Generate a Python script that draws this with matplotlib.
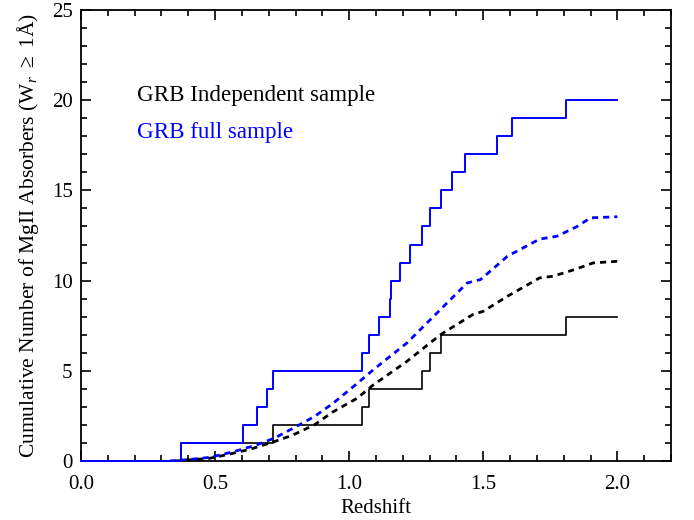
import matplotlib
matplotlib.use("Agg")
import matplotlib.pyplot as plt
from matplotlib.ticker import MultipleLocator

plt.rcParams['font.family'] = ['Liberation Serif', 'DejaVu Serif']
plt.rcParams['mathtext.fontset'] = 'custom'
plt.rcParams['mathtext.rm'] = 'Liberation Serif'
plt.rcParams['mathtext.it'] = 'Liberation Serif:italic'

# Observed cumulative counts (step functions)
full_z = [0.0, 0.373, 0.603, 0.657, 0.693, 0.715, 1.047, 1.075, 1.110, 1.153, 1.157,
          1.190, 1.225, 1.271, 1.302, 1.342, 1.383, 1.430, 1.551, 1.607, 1.809, 2.0]
full_n = [0, 1, 2, 3, 4, 5, 6, 7, 8, 9, 10, 11, 12, 13, 14, 15, 16, 17, 18, 19, 20, 20]

indep_z = [0.0, 0.373, 0.715, 1.047, 1.075, 1.271, 1.302, 1.342, 1.809, 2.0]
indep_n = [0, 1, 2, 3, 4, 5, 6, 7, 8, 8]

# Expected cumulative curves (dashed)
full_exp_z = [0.33, 0.40, 0.48, 0.57, 0.655, 0.72, 0.79, 0.87, 0.94, 1.03, 1.09,
              1.215, 1.34, 1.44, 1.49, 1.59, 1.71, 1.775, 1.85, 1.90, 2.0]
full_exp_n = [0.0, 0.08, 0.2, 0.52, 0.89, 1.26, 1.81, 2.46, 3.2, 4.3, 5.06,
              6.54, 8.39, 9.87, 10.06, 11.35, 12.3, 12.46, 13.0, 13.48, 13.54]

indep_exp_z = [0.35, 0.48, 0.556, 0.63, 0.72, 0.79, 0.87, 0.94, 1.03, 1.09, 1.215,
               1.34, 1.46, 1.50, 1.59, 1.71, 1.76, 1.84, 1.91, 2.0]
indep_exp_n = [0.0, 0.15, 0.39, 0.65, 1.07, 1.44, 2.0, 2.73, 3.48, 4.22, 5.52,
               7.0, 8.11, 8.3, 9.13, 10.15, 10.24, 10.61, 10.98, 11.07]

fig = plt.figure(figsize=(6.94, 5.2), dpi=100)
ax = fig.add_axes([81/694, 59/520, 590/694, 451/520])

ax.step(indep_z, indep_n, where='post', color='black', lw=1.2, zorder=3)
ax.plot(indep_exp_z, indep_exp_n, color='black', lw=2.0, dashes=(2.2, 1.8), zorder=3)
ax.plot(full_exp_z, full_exp_n, color='#0000ff', lw=2.0, dashes=(2.2, 1.8), zorder=3)
ax.step(full_z, full_n, where='post', color='#0000ff', lw=1.4, zorder=4, clip_on=False)

ax.set_xlim(0, 2.2)
ax.set_ylim(0, 25)
ax.xaxis.set_major_locator(MultipleLocator(0.5))
ax.xaxis.set_minor_locator(MultipleLocator(0.1))
ax.yaxis.set_major_locator(MultipleLocator(5))
ax.yaxis.set_minor_locator(MultipleLocator(1))
ax.xaxis.set_major_formatter(plt.FuncFormatter(lambda v, p: f"{v:.1f}"))
ax.yaxis.set_major_formatter(plt.FuncFormatter(lambda v, p: f"{int(round(v))}"))
ax.tick_params(which='both', direction='in', top=True, right=True, width=1.2,
               labelsize=15)
ax.tick_params(which='major', length=7)
ax.tick_params(which='minor', length=4.5)
ax.tick_params(axis='x', which='major', pad=10)
ax.tick_params(axis='y', which='major', pad=6)
for s in ax.spines.values():
    s.set_linewidth(1.3)

ax.set_xlabel('Redshift', fontsize=15, labelpad=4)
ax.set_ylabel(r'Cumulative Number of MgII Absorbers (W$_r$ $\geq$ 1Å)', fontsize=15.5,
              labelpad=8)

ax.text(0.21, 20.25, 'GRB Independent sample', color='black', fontsize=16.6, va='center')
ax.text(0.21, 18.2, 'GRB full sample', color='#0000ff', fontsize=16.6, va='center')

fig.savefig('out.png', dpi=100)
